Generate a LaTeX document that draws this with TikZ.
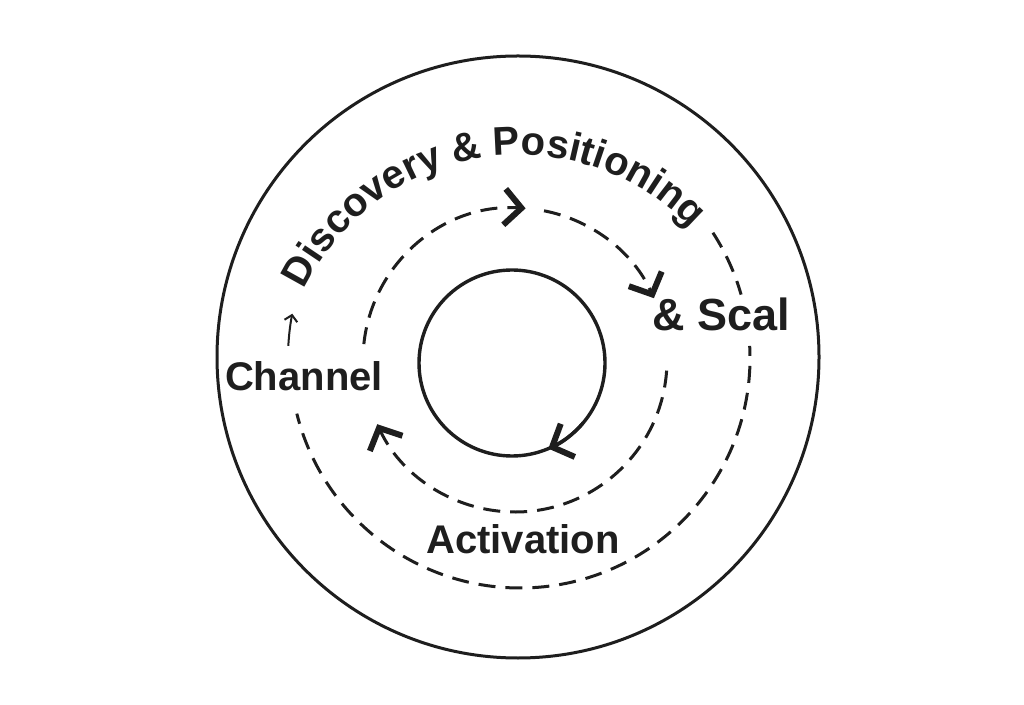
\documentclass[tikz,border=0pt]{standalone}
\usepackage{fontspec}
\setmainfont{Liberation Sans}
\usepackage{tikz}
\usetikzlibrary{arrows.meta,decorations.text}
\definecolor{inkcol}{RGB}{30,30,30}
\tikzset{
  ringln/.style={line width=3pt, draw=inkcol},
  dashln/.style={line width=3pt, draw=inkcol, dash pattern=on 17pt off 10pt},
  bigtip/.style={-{Straight Barb[length=17pt,width=36pt,line width=6pt]}},
  smalltip/.style={-{Straight Barb[length=6pt,width=13pt,line width=2pt]}},
  lbl/.style={font=\bfseries\fontsize{40}{48}\selectfont, text=inkcol, inner sep=0pt, anchor=base},
}

\begin{document}
\begin{tikzpicture}[x=1pt,y=1pt]
  \useasboundingbox (0,0) rectangle (1024,704);
  % Centres of the rings
  \coordinate (oc) at (518,347);
  \coordinate (dc) at (520,346);
  \coordinate (mc) at (515,344);
  \coordinate (ic) at (512,341);
  \coordinate (tc) at (519,311);
  % Outer circle
  \draw[ringln] (oc) circle (301);
  % Outer dashed ring
  \draw[dashln] ([shift={(33:230)}]dc) arc (33:16:230);
  \draw[dashln, dash phase=7pt] ([shift={(3:230)}]dc) arc (3:-166:230);
  \draw[line width=2pt, draw=inkcol, smalltip] ([shift={(177:232)}]dc) arc (177:169:232);
  % Middle dashed ring with arrows
  \draw[dashln, bigtip] ([shift={(174:152)}]mc) arc (174:86:152);
  \draw[dashln, bigtip] ([shift={(79:152)}]mc) arc (79:24:152);
  \draw[dashln, bigtip] ([shift={(-4:152)}]mc) arc (-4:-155:152);
  % Inner circle
  \draw[ringln, line width=3.4pt] (ic) circle (93);
  \draw[ringln, line width=3.4pt, bigtip] ([shift={(-40:93)}]ic) arc (-40:-67:93);
  % Labels
  \path[font=\bfseries\fontsize{40}{48}\selectfont, decorate,
    decoration={text along path, text align=center,
    text={|\color{inkcol}\bfseries\fontsize{40}{48}\selectfont|Discovery {\&} Positioning}}]
    ([shift={(162:238)}]tc) arc (162:36:238);
  \node[lbl] (chan) at (304,313) {Channel};
  \node[lbl, font=\bfseries\fontsize{45}{52}\selectfont] (scal) at (721,373) {\& Scal};
  \node[lbl] (actv) at (523,151) {Activation};
\end{tikzpicture}
\end{document}
